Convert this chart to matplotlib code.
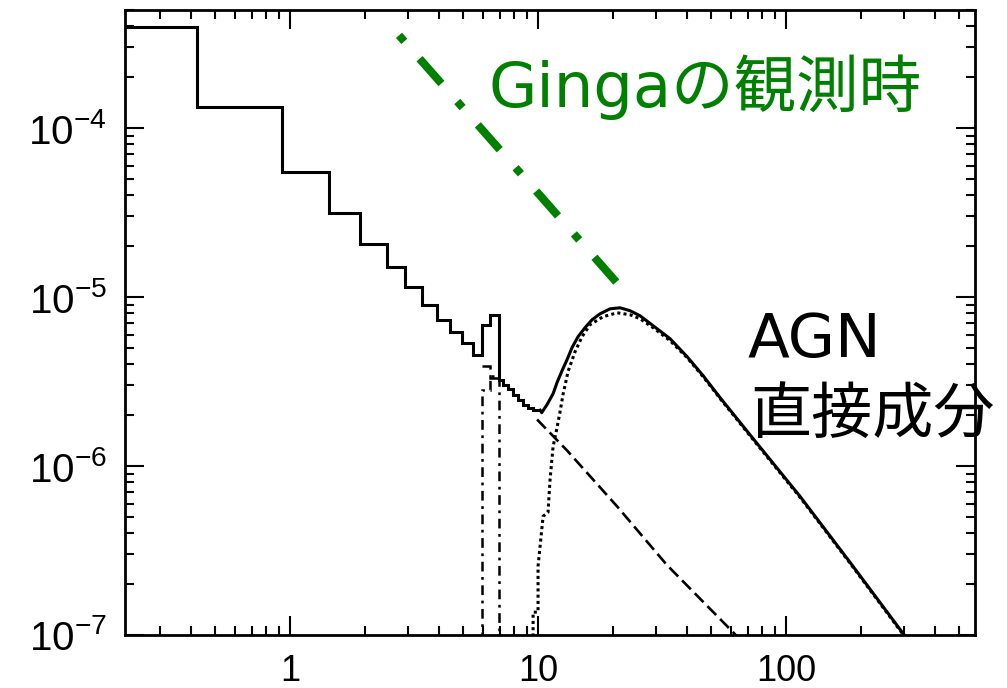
import numpy as np
import matplotlib
matplotlib.use("Agg")
import matplotlib.pyplot as plt
from matplotlib.ticker import LogLocator, NullFormatter

plt.rcParams.update({
    "font.family": ["Liberation Sans", "DejaVu Sans"],
    "mathtext.default": "regular",
    "lines.scale_dashes": False,
    "axes.linewidth": 2.0,
})

JP_FONT = ["DejaVu Sans", "Noto Sans CJK JP"]
GREEN = "#008000"

# ---------------------------------------------------------------------------
# Spectrum (energy in keV, flux)
# ---------------------------------------------------------------------------
# total spectrum, coarse bins below ~10 keV
EDGES_LO = [0.2, 0.42, 0.93, 1.43, 1.92, 2.45, 2.91, 3.41, 3.9, 4.42, 4.92,
            5.48, 5.93, 6.4, 6.98, 7.25, 7.59, 7.95, 8.33, 8.73, 9.14, 9.57, 10.2]
TOTAL_LO = [3.96e-4, 1.336e-4, 5.52e-5, 3.13e-5, 2.06e-5, 1.5e-5, 1.15e-5,
            9.01e-6, 7.34e-6, 6.18e-6, 5.33e-6, 4.53e-6, 6.86e-6, 7.86e-6,
            3.25e-6, 3.03e-6, 2.84e-6, 2.65e-6, 2.47e-6, 2.31e-6, 2.21e-6, 2.14e-6]

# total spectrum above 10 keV (hard hump)
HUMP_E = [10.2, 10.35, 10.87, 11.5, 11.93, 12.5, 13.09, 13.71, 14.5, 15.47,
          16.51, 17.78, 19.51, 21.41, 23.5, 25.78, 29.09, 34.07, 39.89, 46.28,
          54.19, 73.6, 113.9, 181.2, 293.7, 347.0]
HUMP_F = [2.14e-6, 2.07e-6, 2.31e-6, 2.68e-6, 3.12e-6, 3.67e-6, 4.26e-6,
          5.02e-6, 5.83e-6, 6.59e-6, 7.34e-6, 7.96e-6, 8.52e-6, 8.64e-6,
          8.30e-6, 7.75e-6, 6.77e-6, 5.67e-6, 4.44e-6, 3.43e-6, 2.54e-6,
          1.455e-6, 6.61e-7, 2.69e-7, 1.04e-7, 7.5e-8]

# AGN direct (absorbed) component, dotted
HARD_E = [9.55, 9.55, 10.0, 10.0, 10.48, 10.97, 11.18, 11.5, 11.93, 12.27,
          12.61, 13.21, 14.1, 15.05, 16.2, 18.29, 20.83, 23.5, 25.78, 29.09,
          34.07, 39.89, 46.28, 54.19, 73.6, 113.9, 181.2, 293.7, 347.0]
HARD_F = [9e-8, 1.365e-7, 1.365e-7, 2.55e-7, 5.04e-7, 5.32e-7, 8.33e-7,
          1.305e-6, 1.69e-6, 2.10e-6, 2.65e-6, 3.62e-6, 4.75e-6, 5.83e-6,
          6.86e-6, 7.65e-6, 8.07e-6, 7.86e-6, 7.44e-6, 6.59e-6, 5.52e-6,
          4.38e-6, 3.38e-6, 2.51e-6, 1.436e-6, 6.52e-7, 2.66e-7, 1.026e-7, 7.4e-8]

# soft component, dashed
SOFT_EDGES = [5.93, 6.4, 6.98]
SOFT_BINS = [3.93e-6, 3.34e-6]
SOFT_E = [9.91, 13.09, 20.83, 33.13, 61.1, 68.3]
SOFT_F = [1.885e-6, 1.236e-6, 5.77e-7, 2.59e-7, 1.04e-7, 8.7e-8]

# iron line, dash-dot
LINE_EDGES = [5.93, 6.4, 6.98]
LINE_F = [2.835e-6, 3.43e-6]

# Ginga marker line
GINGA_E = [2.75, 20.8]
GINGA_F = [3.54e-4, 1.215e-5]

X_TICKS = [1, 10, 100]
X_LABELS = ["1", "10", "100"]
Y_TICKS = [1e-7, 1e-6, 1e-5, 1e-4]

# ---------------------------------------------------------------------------
fig = plt.figure(figsize=(10.07, 6.88), dpi=100)
ax = fig.add_axes([125 / 1007, 53 / 688, 850 / 1007, 625 / 688])
ax.set_xscale("log")
ax.set_yscale("log")

ax.stairs(TOTAL_LO, EDGES_LO, baseline=None, color="k", lw=2.2)
ax.plot(HUMP_E, HUMP_F, color="k", lw=2.2)

ax.plot(HARD_E, HARD_F, color="k", lw=2.2, linestyle=(0, (2.2, 2.3)))
ax.stairs(SOFT_BINS, SOFT_EDGES, baseline=None, color="k", lw=1.8,
          linestyle=(0, (8, 4)))
ax.plot(SOFT_E, SOFT_F, color="k", lw=1.9, linestyle=(0, (9, 4)))
ax.stairs(LINE_F, LINE_EDGES, baseline=1e-9, color="k", lw=1.8,
          linestyle=(0, (7, 4, 2, 4)))

ax.plot(GINGA_E, GINGA_F, color=GREEN, lw=5.8,
        linestyle=(0, (5.8, 16.6, 23.8, 17.3)), dash_capstyle="butt")

ax.set_xlim(0.216, 578)
ax.set_ylim(1e-7, 5e-4)

ax.set_xticks(X_TICKS)
ax.set_xticklabels(X_LABELS)
ax.set_yticks(Y_TICKS)
ax.xaxis.set_minor_locator(LogLocator(base=10, subs=np.arange(2, 10), numticks=30))
ax.yaxis.set_minor_locator(LogLocator(base=10, subs=np.arange(2, 10), numticks=30))
ax.xaxis.set_minor_formatter(NullFormatter())
ax.yaxis.set_minor_formatter(NullFormatter())

ax.tick_params(which="both", direction="in", top=True, right=True, width=1.5)
ax.tick_params(which="major", length=13.7)
ax.tick_params(axis="x", which="major", labelsize=26, pad=14)
ax.tick_params(axis="y", which="major", labelsize=29, pad=13)
ax.tick_params(which="minor", length=6.8)

fig.text(488 / 1007, 1 - 107 / 688, "Gingaの観測時", color=GREEN,
         fontsize=45, family=JP_FONT, ha="left", va="baseline")
fig.text(748 / 1007, 1 - 357 / 688, "AGN", color="k",
         fontsize=44, family=JP_FONT, ha="left", va="baseline")
fig.text(750 / 1007, 1 - 433 / 688, "直接成分", color="k",
         fontsize=44, family=JP_FONT, ha="left", va="baseline")

fig.savefig("out.png", dpi=100)
